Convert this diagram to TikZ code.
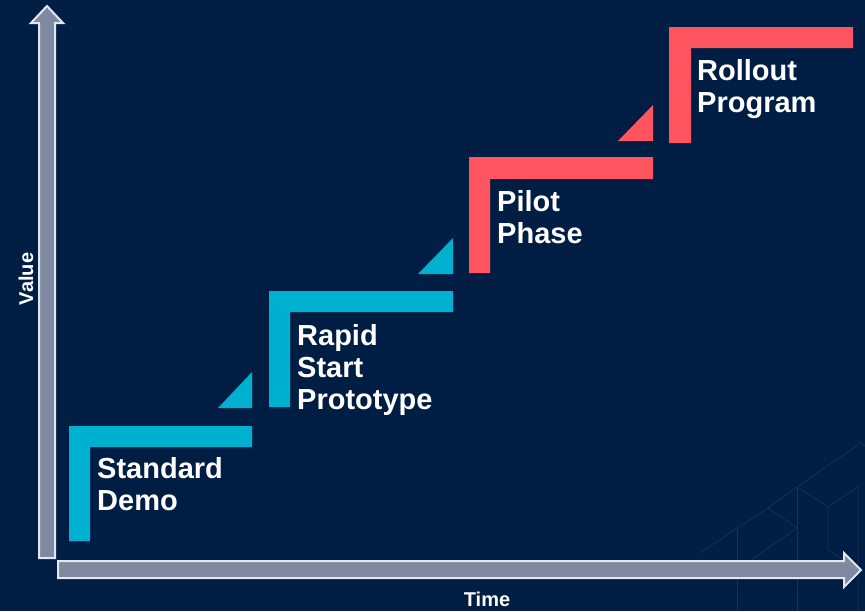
\documentclass[tikz,border=0pt]{standalone}
\usepackage{fontspec}
\setmainfont{Liberation Sans}
\definecolor{navybg}{RGB}{0,30,68}
\definecolor{hexline}{RGB}{22,48,86}
\definecolor{axisgray}{RGB}{127,138,160}
\definecolor{axisrim}{RGB}{226,230,238}
\definecolor{stepcyan}{RGB}{0,176,208}
\definecolor{stepred}{RGB}{255,85,96}
\begin{document}
\begin{tikzpicture}[
  x=1pt, y=-1pt,
  axis arrow/.style={fill=axisgray, draw=axisrim, line width=2pt, line join=miter},
  hex grid/.style={draw=hexline, line width=0.8pt},
  stage label/.style={anchor=north west, inner sep=0pt, align=left, text=white,
    font=\bfseries\fontsize{29}{32}\selectfont},
  axis label/.style={anchor=base, inner sep=0pt, text=white,
    font=\bfseries\fontsize{20}{24}\selectfont}
]
  % background
  \fill[navybg] (0,0) rectangle (865,611);
  \useasboundingbox (0,0) rectangle (865,611);

  % faint cube pattern, bottom right
  \draw[hex grid] (700,553) -- (737,528) -- (768,508) -- (797,487) -- (861,443) -- (865,446);
  \draw[hex grid] (737,528) -- (737,611);
  \draw[hex grid] (768,508) -- (797,528) -- (737,570);
  \draw[hex grid] (797,487) -- (797,611);
  \draw[hex grid] (797,487) -- (828,507) -- (858,487) -- (858,611);
  \draw[hex grid] (828,507) -- (828,550) -- (860,570);

  % axes
  \draw[axis arrow] (39,558) -- (39,23) -- (31,23) -- (47,6) -- (63,23) -- (55,23) -- (55,558) -- cycle;
  \draw[axis arrow] (58,561) -- (844,561) -- (844,553) -- (861,570) -- (844,587) -- (844,578) -- (58,578) -- cycle;
  \node[axis label, rotate=90] (value) at (33,279) {Value};
  \node[axis label] (time) at (487,606) {Time};

  % stages
  \fill[stepcyan] (69,541) -- (69,426) -- (252,426) -- (252,447) -- (90,447) -- (90,541) -- cycle;
  \fill[stepcyan] (218,408) -- (252,408) -- (252,372) -- cycle;
  \fill[stepcyan] (269,407) -- (269,291) -- (453,291) -- (453,312) -- (290,312) -- (290,407) -- cycle;
  \fill[stepcyan] (418,274) -- (453,274) -- (453,238) -- cycle;
  \fill[stepred] (469,273) -- (469,157) -- (653,157) -- (653,179) -- (490,179) -- (490,273) -- cycle;
  \fill[stepred] (618,141) -- (653,141) -- (653,105) -- cycle;
  \fill[stepred] (669,143) -- (669,27) -- (853,27) -- (853,48) -- (691,48) -- (691,143) -- cycle;

  \node[stage label] (demo) at (97,457) {Standard\\Demo};
  \node[stage label] (rapid) at (297,324) {Rapid\\Start\\Prototype};
  \node[stage label] (pilot) at (497,190.5) {Pilot\\Phase};
  \node[stage label] (rollout) at (697,59.5) {Rollout\\Program};
\end{tikzpicture}
\end{document}
